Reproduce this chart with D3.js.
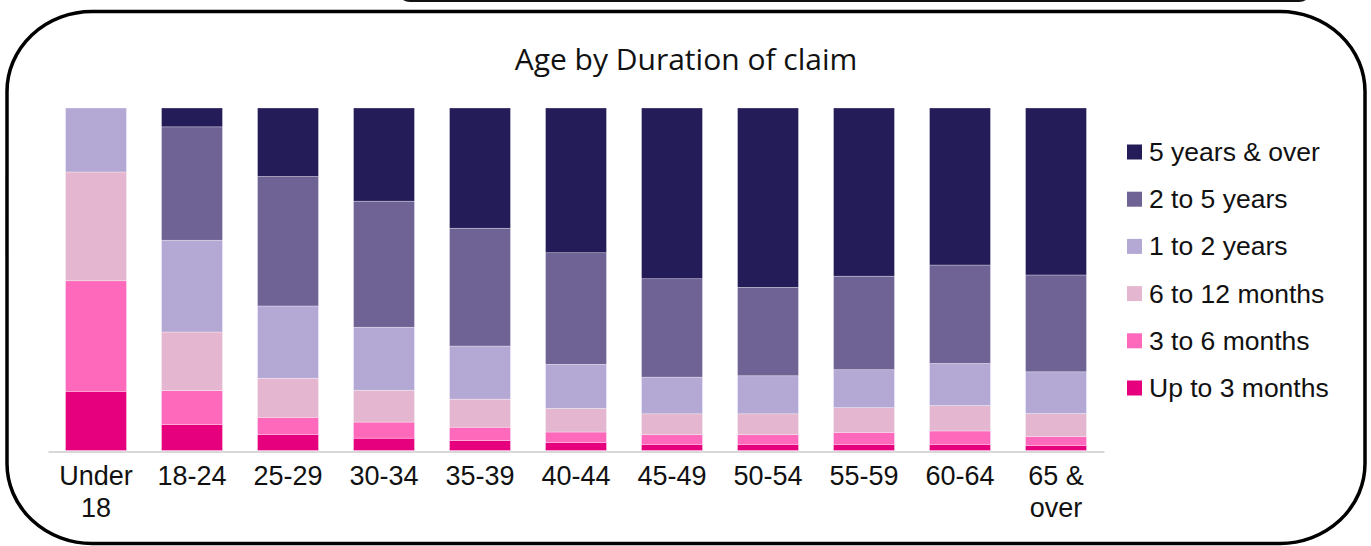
<!DOCTYPE html>
<html>
<head>
<meta charset="utf-8">
<script src="https://cdn.jsdelivr.net/npm/d3@7"></script>
<style>
    body { margin: 0; background: #fff; }
    svg { display: block; }
</style>
</head>
<body>
<div id="chart"></div>
<script>
// Age bands on the x axis
var categories = ["Under 18", "18-24", "25-29", "30-34", "35-39", "40-44",
                  "45-49", "50-54", "55-59", "60-64", "65 & over"];

// Share of claims (%) by duration
var upTo3Months   = [17.3, 7.6, 4.7, 3.6, 2.9, 2.3, 1.8, 1.8, 1.8, 1.8, 1.5];
var m3to6Months   = [32.3, 9.9, 5.0, 4.7, 3.9, 3.1, 2.8, 2.8, 3.5, 3.9, 2.6];
var m6to12Months  = [31.8, 17.1, 11.4, 9.3, 8.2, 6.9, 6.1, 6.1, 7.2, 7.4, 6.7];
var y1to2Years    = [18.7, 26.8, 21.1, 18.4, 15.5, 12.9, 10.7, 11.1, 11.1, 12.3, 12.2];
var y2to5Years    = [0, 33.1, 37.8, 36.8, 34.4, 32.6, 28.7, 25.8, 27.3, 28.7, 28.3];
var y5yearsPlus   = [0, 5.5, 20.0, 27.2, 35.1, 42.3, 49.8, 52.3, 49.1, 45.8, 48.8];

// stacking order: bottom to top
var seriesNames = ["Up to 3 months", "3 to 6 months", "6 to 12 months",
                   "1 to 2 years", "2 to 5 years", "5 years & over"];
var seriesValues = [upTo3Months, m3to6Months, m6to12Months,
                    y1to2Years, y2to5Years, y5yearsPlus];
var seriesColors = ["#e6007e", "#ff69bc", "#e5b6d0", "#b4a9d4", "#6f6295", "#241c58"];

var width = 1371, height = 546;

var svg = d3.select("#chart").append("svg")
    .attr("width", width)
    .attr("height", height);

// frame of the slide box above (only its bottom edge shows)
svg.append("rect")
    .attr("x", 398).attr("y", -60)
    .attr("width", 913).attr("height", 61)
    .attr("rx", 12).attr("ry", 12)
    .attr("fill", "none")
    .attr("stroke", "#111")
    .attr("stroke-width", 2);

// rounded frame around the chart
svg.append("rect")
    .attr("x", 7).attr("y", 11.5)
    .attr("width", 1358).attr("height", 532)
    .attr("rx", 85).attr("ry", 80)
    .attr("fill", "#fff")
    .attr("stroke", "#000")
    .attr("stroke-width", 3.5);

// Title
svg.append("text")
    .attr("x", 686)
    .attr("y", 70)
    .attr("text-anchor", "middle")
    .style("font-family", "'Open Sans', sans-serif")
    .style("font-size", "30px")
    .style("fill", "#111")
    .text("Age by Duration of claim");

// build rows for the stack
var rows = categories.map(function(c, i) {
    var row = {age: c};
    seriesNames.forEach(function(s, j) { row[s] = seriesValues[j][i]; });
    return row;
});

var stack = d3.stack()
    .keys(seriesNames)
    .offset(d3.stackOffsetExpand);
var layers = stack(rows);

var x = d3.scaleBand()
    .domain(categories)
    .range([48, 1104])
    .paddingInner(0.365)
    .paddingOuter(0.1825);

var y = d3.scaleLinear()
    .domain([0, 1])
    .range([450.5, 108]);

var color = d3.scaleOrdinal().domain(seriesNames).range(seriesColors);

svg.append("g")
    .selectAll("g")
    .data(layers)
    .enter().append("g")
        .attr("fill", function(d) { return color(d.key); })
    .selectAll("rect")
    .data(function(d) { return d; })
    .enter().append("rect")
        .attr("x", function(d) { return x(d.data.age); })
        .attr("y", function(d) { return y(d[1]); })
        .attr("width", x.bandwidth())
        .attr("height", function(d) { return y(d[0]) - y(d[1]); })
        .attr("stroke", "rgba(255,255,255,0.5)")
        .attr("stroke-width", 0.6);

// x axis
var xAxis = svg.append("g")
    .attr("transform", "translate(0,451.5)")
    .call(d3.axisBottom(x).tickSize(0).tickSizeOuter(0));

xAxis.select(".domain")
    .attr("stroke", "#d9d9d9")
    .attr("stroke-width", 2);

xAxis.selectAll(".tick text")
    .style("font-family", "'Liberation Sans', Arial, sans-serif")
    .style("font-size", "27px")
    .style("fill", "#111")
    .attr("y", 0)
    .attr("dy", null)
    .each(function(d) {
        // wrap long labels onto two lines at the last space
        var el = d3.select(this);
        var k = d.lastIndexOf(" ");
        var lines = (d.length > 6 && k > 0) ? [d.slice(0, k), d.slice(k + 1)] : [d];
        el.text(null);
        lines.forEach(function(l, i) {
            el.append("tspan")
                .attr("x", 0)
                .attr("y", 33.5 + i * 31.5)
                .text(l);
        });
    });

// Legend, top entry is the top of the stack
var legend = svg.append("g")
    .selectAll("g")
    .data(seriesNames.slice().reverse())
    .enter().append("g")
        .attr("transform", function(d, i) { return "translate(1127," + (152 + i * 47.2) + ")"; });

legend.append("rect")
    .attr("x", 0).attr("y", -7.5)
    .attr("width", 15).attr("height", 15)
    .attr("fill", function(d) { return color(d); });

legend.append("text")
    .attr("x", 22)
    .attr("y", 9)
    .style("font-family", "'Liberation Sans', Arial, sans-serif")
    .style("font-size", "26.5px")
    .style("fill", "#111")
    .text(function(d) { return d; });
</script>
</body>
</html>
